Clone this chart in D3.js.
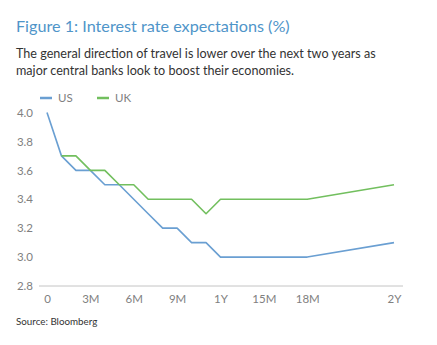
<!DOCTYPE html>
<html><head><meta charset="utf-8">
<script src="https://cdn.jsdelivr.net/npm/d3@7"></script>
<style>body{margin:0;background:#fff}svg{display:block}</style>
</head><body>
<script>
const months = [0,1,2,3,4,5,6,7,8,9,10,11,12,15,18,24];
const usValues = [4.0,3.7,3.6,3.6,3.5,3.5,3.4,3.3,3.2,3.2,3.1,3.1,3.0,3.0,3.0,3.1];
const ukMonths = [1,2,3,4,5,6,7,8,9,10,11,12,15,18,24];
const ukValues = [3.7,3.7,3.6,3.6,3.5,3.5,3.4,3.4,3.4,3.4,3.3,3.4,3.4,3.4,3.5];
const xTickMonths = [0,3,6,9,12,15,18,24];
const xTickLabels = ["0","3M","6M","9M","1Y","15M","18M","2Y"];
const yTicks = [2.8,3.0,3.2,3.4,3.6,3.8,4.0];
const seriesNames = ["US","UK"];
const colors = ["#6a9fd2","#72bf5e"];

const W=437,H=345;
const svg=d3.select("body").append("svg").attr("width",W).attr("height",H);
const font="Lato, 'Open Sans', sans-serif";

svg.append("text").attr("x",16).attr("y",32).attr("font-family",font).attr("font-size",16.2)
  .attr("fill","#4f95c9").text("Figure 1: Interest rate expectations (%)");
const sub=["The general direction of travel is lower over the next two years as","major central banks look to boost their economies."];
sub.forEach((t,i)=>svg.append("text").attr("x",16).attr("y",58+i*17).attr("font-family",font)
  .attr("font-size",12.6).attr("fill","#333").text(t));

const x=d3.scaleLinear().domain([0,24]).range([47,394]);
const y=d3.scaleLinear().domain([2.8,4.0]).range([286,112.5]);

// axis line
svg.append("line").attr("x1",39).attr("x2",403).attr("y1",y(2.8)).attr("y2",y(2.8))
  .attr("stroke","#c4c4c4").attr("stroke-width",1);

const yAxis=d3.axisLeft(y).tickValues(yTicks).tickFormat(d3.format(".1f")).tickSize(0).tickPadding(0);
const gy=svg.append("g").attr("transform","translate(33,0)").call(yAxis);
gy.select(".domain").remove();
gy.selectAll("text").attr("font-family",font).attr("font-size",11.5).attr("fill","#808080");

const xAxis=d3.axisBottom(x).tickValues(xTickMonths).tickFormat((d,i)=>xTickLabels[i]).tickSize(0).tickPadding(0);
const gx=svg.append("g").attr("transform","translate(0,295)").call(xAxis);
gx.select(".domain").remove();
gx.selectAll("text").attr("font-family",font).attr("font-size",11.5).attr("fill","#808080");

const line=d3.line().x(d=>x(d[0])).y(d=>y(d[1]));
const usData=months.map((m,i)=>[m,usValues[i]]);
const ukData=ukMonths.map((m,i)=>[m,ukValues[i]]);
[usData,ukData].forEach((d,i)=>svg.append("path").datum(d).attr("d",line)
  .attr("fill","none").attr("stroke",colors[i]).attr("stroke-width",1.6).attr("stroke-linejoin","round"));

// legend
const lx=[40,97];
seriesNames.forEach((n,i)=>{
  svg.append("line").attr("x1",lx[i]).attr("x2",lx[i]+12).attr("y1",98).attr("y2",98)
    .attr("stroke",colors[i]).attr("stroke-width",2.5);
  svg.append("text").attr("x",lx[i]+18).attr("y",102).attr("font-family",font).attr("font-size",11.5)
    .attr("fill","#808080").text(n);
});

svg.append("text").attr("x",16).attr("y",325).attr("font-family",font).attr("font-size",9.8)
  .attr("fill","#333").text("Source: Bloomberg");
</script>
</body></html>
